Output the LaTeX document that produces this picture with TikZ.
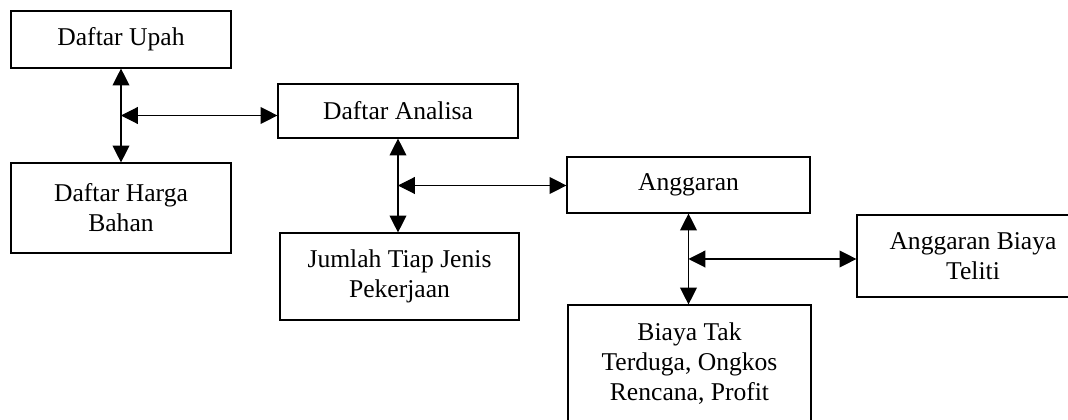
\documentclass[tikz,border=0pt]{standalone}
\usepackage{fontspec}
\setmainfont{Liberation Serif}
\usetikzlibrary{arrows.meta,calc}

\begin{document}
\begin{tikzpicture}[x=0.025cm, y=-0.025cm, line width=0.8pt, >={Triangle[length=12pt,width=12pt]}]
    \tikzstyle{box}=[draw, rectangle, align=center, inner sep=0pt, font=\fontsize{18.2}{21.3}\selectfont]
    \tikzstyle{link}=[<->]

    \useasboundingbox (0,0) rectangle (1068,420);
    \clip (0,0) rectangle (1068,420);

    % Draw the boxes
    \node[box, minimum width=5.5cm, minimum height=1.425cm] (upah) at (121,39.5) {Daftar Upah};
    \node[box, minimum width=5.5cm, minimum height=2.25cm] (harga) at (121,208) {Daftar Harga\\Bahan};
    \node[box, minimum width=6cm, minimum height=1.35cm] (analisa) at (398,111) {Daftar Analisa};
    \node[box, minimum width=5.975cm, minimum height=2.175cm] (jumlah) at (399.5,276.5) {Jumlah Tiap Jenis\\Pekerjaan};
    \node[box, minimum width=6.075cm, minimum height=1.4cm] (anggaran) at (688.5,185) {Anggaran};
    \node[box, minimum width=5.8cm, minimum height=2.05cm] (teliti) at (973,256) {Anggaran Biaya\\Teliti};
    \node[box, minimum width=6.075cm, minimum height=2.95cm] (biaya) at (689.5,364) {Biaya Tak\\Terduga, Ongkos\\Rencana, Profit};

    % Junctions on the vertical links
    \coordinate (j1) at ($(upah.south)!0.5!(harga.north)$);
    \coordinate (j2) at ($(analisa.south)!0.5!(analisa.south |- jumlah.north)$);
    \coordinate (j3) at ($(anggaran.south)!0.5!(anggaran.south |- biaya.north)$);

    % Connect the boxes
    \draw[link] (upah.south) -- (harga.north);
    \draw[link] (j1) -- (j1 -| analisa.west);

    \draw[link] (analisa.south) -- (analisa.south |- jumlah.north);
    \draw[link] (j2) -- (j2 -| anggaran.west);

    \draw[link] (anggaran.south) -- (anggaran.south |- biaya.north);
    \draw[link] (j3) -- (j3 -| teliti.west);
\end{tikzpicture}
\end{document}
